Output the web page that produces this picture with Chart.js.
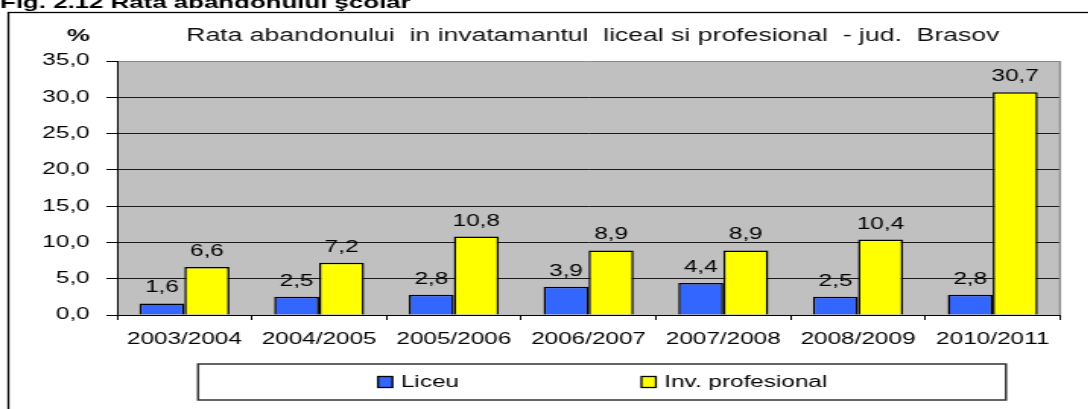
<!DOCTYPE html>
<html>
<head>
<meta charset="utf-8">
<script src="https://cdn.jsdelivr.net/npm/chart.js@4.4.0/dist/chart.umd.min.js"></script>
<style>
  html, body { margin: 0; padding: 0; background: #fff; overflow: hidden; }
  /* the original picture is stretched sideways, so we stretch the canvas too */
  #wrap { position: absolute; left: 0; top: 0; width: 716px; height: 409px;
          transform: scaleX(1.52); transform-origin: 0 0; }
</style>
</head>
<body>
<div id="wrap"><canvas id="myChart"></canvas></div>
<script>
//Datos
const anos = ['2003/2004', '2004/2005', '2005/2006', '2006/2007', '2007/2008', '2008/2009', '2010/2011'];
const liceu = [1.6, 2.5, 2.8, 3.9, 4.4, 2.5, 2.8];
const profesional = [6.6, 7.2, 10.8, 8.9, 8.9, 10.4, 30.7];
const serieNombres = ['Liceu', 'Inv. profesional'];
const yMin = 0;
const yMax = 35;
const yPaso = 5;

const figTitulo = 'Fig. 2.12 Rata abandonului şcolar';
const titulo = 'Rata abandonului  in invatamantul  liceal si profesional  - jud.  Brasov';
const unidad = '%';

const FUENTE = "'Liberation Sans', Arial, sans-serif";
const coma = v => v.toFixed(1).replace('.', ',');

//fondo gris del area del grafico
const fondoPlugin = {
  id: 'fondo',
  beforeDraw(chart) {
    const { ctx, chartArea: a } = chart;
    ctx.save();
    ctx.fillStyle = '#c0c0c0';
    ctx.fillRect(a.left, a.top, a.right - a.left, a.bottom - a.top);
    ctx.restore();
  },
  beforeDatasetsDraw(chart) {
    const { ctx, chartArea: a } = chart;
    ctx.save();
    ctx.strokeStyle = '#8a8a8a';
    ctx.lineWidth = 1.3;
    ctx.beginPath();
    ctx.moveTo(a.right, a.top);
    ctx.lineTo(a.right, a.bottom);
    ctx.stroke();
    ctx.restore();
  }
};

//valores encima de las barras
const etiquetasPlugin = {
  id: 'etiquetas',
  afterDatasetsDraw(chart) {
    const ctx = chart.ctx;
    ctx.save();
    ctx.font = '16px ' + FUENTE;
    ctx.fillStyle = '#000';
    ctx.textAlign = 'center';
    ctx.textBaseline = 'alphabetic';
    chart.data.datasets.forEach((ds, i) => {
      chart.getDatasetMeta(i).data.forEach((bar, j) => {
        ctx.fillText(coma(ds.data[j]), bar.x, bar.y - 11);
      });
    });
    ctx.restore();
  }
};

//marco, titulos y leyenda
const marcoPlugin = {
  id: 'marco',
  afterDraw(chart) {
    const ctx = chart.ctx;
    ctx.save();
    // marco exterior
    ctx.strokeStyle = '#000';
    ctx.lineWidth = 1.3;
    ctx.strokeRect(5.5, 12.5, 900, 600);

    // titulo de la figura (cortado arriba)
    ctx.fillStyle = '#000';
    ctx.font = 'bold 17px ' + FUENTE;
    ctx.textAlign = 'left';
    ctx.textBaseline = 'alphabetic';
    ctx.fillText(figTitulo, 0, 7.5);

    // unidad y titulo
    ctx.font = 'bold 17px ' + FUENTE;
    ctx.textAlign = 'right';
    ctx.fillText(unidad, 59, 41);
    ctx.font = '17.5px ' + FUENTE;
    ctx.fillStyle = '#111';
    ctx.textAlign = 'center';
    ctx.fillText(titulo, 390, 41);

    // leyenda
    ctx.strokeStyle = '#333';
    ctx.lineWidth = 1.5;
    ctx.strokeRect(130.3, 364, 531.5, 36);
    const cajas = [248.7, 422];
    ctx.font = '16px ' + FUENTE;
    ctx.textAlign = 'left';
    ctx.textBaseline = 'middle';
    chart.data.datasets.forEach((ds, i) => {
      const x = cajas[i];
      ctx.fillStyle = ds.backgroundColor;
      ctx.fillRect(x, 376.5, 9.5, 11);
      ctx.strokeStyle = '#000';
      ctx.lineWidth = 1.3;
      ctx.strokeRect(x, 376.5, 9.5, 11);
      ctx.fillStyle = '#000';
      ctx.fillText(ds.label, x + 15, 382.5);
    });
    ctx.restore();
  }
};

const ctx = document.getElementById('myChart').getContext('2d');
const myChart = new Chart(ctx, {
  type: 'bar',
  data: {
    labels: anos,
    datasets: [
      { label: serieNombres[0], data: liceu, backgroundColor: '#3366ff', borderColor: '#000', borderWidth: 1.5 },
      { label: serieNombres[1], data: profesional, backgroundColor: '#ffff00', borderColor: '#000', borderWidth: 1.5 }
    ]
  },
  options: {
    responsive: true,
    maintainAspectRatio: false,
    animation: false,
    categoryPercentage: 0.668,
    barPercentage: 1,
    layout: { padding: { left: 0, top: 61, right: 18.6, bottom: 0 } },
    plugins: {
      legend: { display: false },
      title: { display: false },
      tooltip: { enabled: false }
    },
    scales: {
      x: {
        afterFit: s => { s.height = 94; },
        border: { color: '#000', width: 1 },
        grid: { offset: true, drawOnChartArea: false, tickLength: 5, color: '#000' },
        ticks: { color: '#000', padding: 10, font: { family: FUENTE, size: 16 }, maxRotation: 0, autoSkip: false }
      },
      y: {
        min: yMin,
        max: yMax,
        afterFit: s => { s.width = 77; },
        border: { color: '#000', width: 1 },
        grid: {
          color: c => (c.tick && c.tick.value === yMax ? '#8a8a8a' : '#1a1a1a'),
          tickColor: '#000',
          tickLength: 7,
          lineWidth: 1
        },
        ticks: {
          stepSize: yPaso,
          padding: 11,
          color: '#000',
          font: { family: FUENTE, size: 16 },
          callback: v => coma(v)
        }
      }
    }
  },
  plugins: [fondoPlugin, etiquetasPlugin, marcoPlugin]
});
</script>
</body>
</html>
